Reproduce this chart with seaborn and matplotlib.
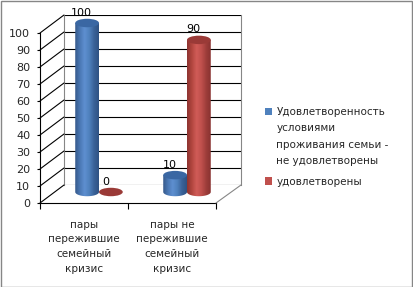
import numpy as np
import pandas as pd
import matplotlib
matplotlib.use("Agg")
import matplotlib.pyplot as plt
import seaborn as sns
from matplotlib.patches import Ellipse, Rectangle, ConnectionPatch, PathPatch
from matplotlib.path import Path
from matplotlib.colors import LinearSegmentedColormap
from matplotlib.legend_handler import HandlerPatch

# ---- data ----
categories = ["пары\nпережившие\nсемейный\nкризис", "пары не\nпережившие\nсемейный\nкризис"]
series = ["Удовлетворенность\nусловиями\nпроживания семьи -\nне удовлетворены", "удовлетворены"]
values_not_satisfied = [100, 10]
values_satisfied = [0, 90]
yticks = list(range(0, 101, 10))

df = pd.DataFrame({
    "cat": categories * 2,
    "series": [series[0]] * 2 + [series[1]] * 2,
    "value": values_not_satisfied + values_satisfied,
})

sns.set_theme(style="white")
plt.rcParams["font.family"] = ["DejaVu Sans"]
FS = 7.5
FS_NUM = 8

W, H = 413, 287
fig = plt.figure(figsize=(W / 100, H / 100), dpi=100)
fig.patch.set_facecolor("white")
fig.patches.append(Rectangle((0.5 / W, 0.5 / H), 1 - 1.5 / W, 1 - 1.5 / H, transform=fig.transFigure,
                             fill=False, edgecolor="#868686", linewidth=1.0))


def px_axes(left, bottom_y, width, height):
    return fig.add_axes([left / W, (H - bottom_y) / H, width / W, height / H])


ax_back = px_axes(64, 185, 177, 170)
ax_front = px_axes(40, 203, 176, 170)
# bar plane: value 0 at y=192 px, 100 at y=23 px (1.69 px per unit), padded by 8 units each side
PADV = 8
ax_bar = px_axes(55, 192 + PADV * 1.69, 176, (100 + 2 * PADV) * 1.69)

for a in (ax_back, ax_front, ax_bar):
    a.set_xlim(-0.5, 1.5)
    a.set_ylim(0, 100)
    a.patch.set_alpha(0)
    for s in a.spines.values():
        s.set_visible(False)

# back wall: gridlines + gray edges
ax_back.set_yticks(yticks)
ax_back.set_yticklabels([])
ax_back.set_xticks([])
ax_back.tick_params(left=False, bottom=False)
ax_back.grid(axis="y", color="black", linewidth=0.8)
ax_back.set_axisbelow(True)
for side in ("left", "right"):
    ax_back.spines[side].set_visible(True)
    ax_back.spines[side].set_color("#868686")
    ax_back.spines[side].set_linewidth(0.8)

# front axis
ax_front.spines["left"].set_visible(True)
ax_front.spines["bottom"].set_visible(True)
for side in ("left", "bottom"):
    ax_front.spines[side].set_color("black")
    ax_front.spines[side].set_linewidth(0.8)
ax_front.set_yticks(yticks)
ax_front.set_yticklabels([str(v) for v in yticks], fontsize=FS_NUM)
ax_front.tick_params(axis="y", length=2, width=0.8, color="black", pad=5, left=True)
ax_front.set_xticks([0, 1])
ax_front.set_xticklabels(categories, fontsize=FS, linespacing=1.6)
ax_front.set_xticks([-0.5, 0.5, 1.5], minor=True)
ax_front.tick_params(axis="x", which="major", length=0, pad=12)
ax_front.tick_params(axis="x", which="minor", length=4, width=0.8, color="black", bottom=True)

# side wall diagonals
for v in yticks:
    cp = ConnectionPatch(xyA=(-0.5, v), coordsA=ax_front.transData,
                         xyB=(-0.5, v), coordsB=ax_back.transData,
                         color="black", linewidth=0.8)
    fig.add_artist(cp)
cp = ConnectionPatch(xyA=(1.5, 0), coordsA=ax_front.transData,
                     xyB=(1.5, 0), coordsB=ax_back.transData,
                     color="#868686", linewidth=0.8)
fig.add_artist(cp)

# bars
palette = {series[0]: "#4F81BD", series[1]: "#C0504D"}
sns.barplot(data=df, x="cat", y="value", hue="series", hue_order=series, order=categories,
            palette=palette, width=0.54, ax=ax_bar, legend=False, saturation=1)
ax_bar.set_xlim(-0.5, 1.5)
ax_bar.set_ylim(-PADV, 100 + PADV)
ax_bar.set_xticks([])
ax_bar.set_yticks([])
ax_bar.set_xlabel("")
ax_bar.set_ylabel("")

grad = {
    series[0]: (["#36598A", "#4A78B4", "#5E8FD0", "#4F81BD", "#3A6298", "#2F5283"], "#3A67A3"),
    series[1]: (["#8E3431", "#B2463F", "#D05C57", "#C0504D", "#9F3E3B", "#883230"], "#9A3A37"),
}
ell_h = 5.0  # ellipse height in value units

patches = list(ax_bar.patches)
for i, p in enumerate(patches):
    s = series[i // len(categories)]
    cols, topcol = grad[s]
    x0 = p.get_x()
    w = p.get_width()
    h = p.get_height()
    cx = x0 + w / 2
    p.set_alpha(0)
    if h > 0:
        t = np.linspace(0, np.pi, 40)
        bottom = [(cx + w / 2 * np.cos(tt), -ell_h / 2 * np.sin(tt)) for tt in t]
        verts = [(x0, h), (x0 + w, h)] + bottom + [(x0, h)]
        path = Path(verts)
        clip = PathPatch(path, transform=ax_bar.transData, facecolor="none", edgecolor="none")
        ax_bar.add_patch(clip)
        cmap = LinearSegmentedColormap.from_list("g", cols)
        img = ax_bar.imshow(np.linspace(0, 1, 64)[None, :], cmap=cmap, aspect="auto",
                            extent=(x0, x0 + w, -ell_h, h), zorder=3, interpolation="bilinear")
        img.set_clip_path(clip)
        ax_bar.add_patch(Ellipse((cx, h), w, ell_h, facecolor=topcol, edgecolor="none", zorder=4))
    else:
        ax_bar.add_patch(Ellipse((cx, 0), w, ell_h, facecolor=topcol, edgecolor="none", zorder=4))
    ax_bar.annotate(f"{h:.0f}", (cx, h), xytext=(-4, 7.5), textcoords="offset points",
                    ha="center", va="center", fontsize=FS_NUM, color="black", zorder=5,
                    annotation_clip=False)
ax_bar.set_xlim(-0.5, 1.5)
ax_bar.set_ylim(-PADV, 100 + PADV)

# legend: square aligned with the first line of each label
LINE_PT = 12.2


class TopHandler(HandlerPatch):
    def create_artists(self, legend, orig_handle, xdescent, ydescent, width, height, fontsize, trans):
        nlines = getattr(orig_handle, "_nlines", 1)
        shift = (nlines - 1) / 2 * LINE_PT
        r = Rectangle((-xdescent, -ydescent + shift), width, height,
                      facecolor=orig_handle.get_facecolor(), edgecolor="none", transform=trans)
        return [r]


handles = []
for s in series:
    r = Rectangle((0, 0), 1, 1, facecolor=palette[s], edgecolor="none")
    r._nlines = s.count("\n") + 1
    handles.append(r)
leg = fig.legend(handles, series, loc="upper left", bbox_to_anchor=(265 / W, 1 - 107 / H),
                 frameon=False, fontsize=FS, handlelength=0.7, handleheight=0.7,
                 handletextpad=0.4, labelspacing=1.0, borderpad=0, borderaxespad=0,
                 handler_map={Rectangle: TopHandler()})
for t in leg.get_texts():
    t.set_linespacing(1.8)

fig.savefig("out.png", dpi=100)
